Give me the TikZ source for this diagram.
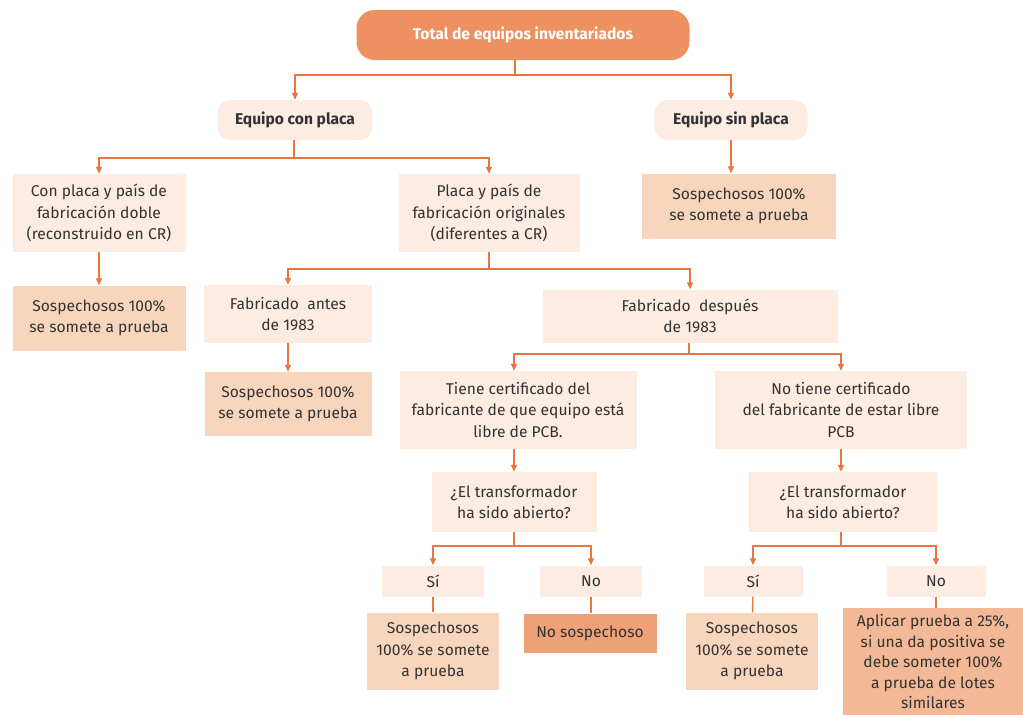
\documentclass[tikz,border=0pt]{standalone}
\usepackage{fontspec}
\setmainfont{Fira Sans}
\usepackage{tikz}
\usepackage{xcolor}
\usetikzlibrary{arrows.meta,positioning,calc}
\definecolor{lineorange}{RGB}{232,118,62}
\definecolor{toporange}{RGB}{237,145,96}
\definecolor{lightpeach}{RGB}{252,236,226}
\definecolor{midpeach}{RGB}{248,214,190}
\definecolor{deeppeach}{RGB}{238,160,118}
\definecolor{salmon}{RGB}{243,185,150}
\definecolor{textgray}{RGB}{50,50,50}

\begin{document}
\begin{tikzpicture}[x=1pt,y=-1pt,
    every node/.style={font=\fontsize{15.6}{21.5}\selectfont, text=textgray, align=center, inner sep=0pt},
    box/.style={fill=lightpeach},
    suspbox/.style={fill=midpeach},
    pill/.style={fill=lightpeach, rounded corners=13pt, font=\fontsize{15.6}{21.5}\selectfont\bfseries},
    link/.style={draw=lineorange, line width=1.4pt},
    arr/.style={link, -{Triangle[length=7pt,width=6pt]}}]
    \useasboundingbox (0,0) rectangle (1023,715);

    % Top level
    \node[fill=toporange, rounded corners=18pt, minimum width=333pt, minimum height=50pt,
          text=white, font=\fontsize{15.6}{21.5}\selectfont\bfseries] (tot) at (523,35) {Total de equipos inventariados};
    \node[pill, minimum width=155pt, minimum height=40pt] (eqc) at (295,120) {Equipo con placa};
    \node[pill, minimum width=153pt, minimum height=40pt] (eqs) at (731,120) {Equipo sin placa};

    % Equipo con placa branch
    \node[box, minimum width=173pt, minimum height=78pt] (cpd) at (99,213) {Con placa y país de\\fabricación doble\\(reconstruido en CR)};
    \node[box, minimum width=181pt, minimum height=78pt] (pfo) at (489,213) {Placa y país de\\fabricación originales\\(diferentes a CR)};
    \node[suspbox, minimum width=173pt, minimum height=65pt] (susa) at (99,318) {Sospechosos 100\%\\se somete a prueba};

    % Equipo sin placa branch
    \node[suspbox, minimum width=194pt, minimum height=65pt] (susb) at (739,206) {Sospechosos 100\%\\se somete a prueba};

    % Fabricado antes / despues
    \node[box, minimum width=168pt, minimum height=58pt] (fan) at (288,314) {Fabricado\ \ antes\\de 1983};
    \node[box, minimum width=295pt, minimum height=53pt] (fde) at (690,316) {Fabricado\ \ después\\de 1983};
    \node[suspbox, minimum width=167pt, minimum height=64pt] (susc) at (288,404) {Sospechosos 100\%\\se somete a prueba};

    % Certificado
    \node[box, minimum width=237pt, minimum height=78pt] (tcf) at (518,410) {Tiene certificado del\\fabricante de que equipo está\\libre de PCB.};
    \node[box, minimum width=252pt, minimum height=78pt] (ncf) at (841,410) {No tiene certificado\\del fabricante de estar libre\\PCB};

    % Transformador abierto?
    \node[box, minimum width=165pt, minimum height=60pt] (trl) at (514,502) {¿El transformador\\ha sido abierto?};
    \node[box, minimum width=188pt, minimum height=60pt] (trr) at (843,502) {¿El transformador\\ha sido abierto?};

    % Si / No
    \node[box, minimum width=102pt, minimum height=31pt] (sil) at (433,581) {Sí};
    \node[box, minimum width=102pt, minimum height=31pt] (nol) at (591,581) {No};
    \node[box, minimum width=99pt, minimum height=31pt] (sir) at (753,581) {Sí};
    \node[box, minimum width=99pt, minimum height=31pt] (nor) at (936,581) {No};

    % Results
    \node[suspbox, minimum width=132pt, minimum height=77pt] (susd) at (433,651) {Sospechosos\\100\% se somete\\a prueba};
    \node[fill=deeppeach, minimum width=133pt, minimum height=39pt] (nsp) at (590,633) {No sospechoso};
    \node[suspbox, minimum width=132pt, minimum height=77pt] (suse) at (752,651) {Sospechosos\\100\% se somete\\a prueba};
    \node[fill=salmon, minimum width=180pt, minimum height=108pt,
          font=\fontsize{15.6}{20.5}\selectfont] (apl) at (933,662) {Aplicar prueba a 25\%,\\si una da positiva se\\debe someter 100\%\\a prueba de lotes\\similares};

    % Connectors
    \coordinate (j1) at (515,75);
    \draw[link] (j1 |- tot.south) -- (j1);
    \draw[arr] (j1) -| (eqc);
    \draw[arr] (j1) -| (eqs);

    \coordinate (j2) at (294,158);
    \draw[link] (j2 |- eqc.south) -- (j2);
    \draw[arr] (j2) -| (cpd);
    \draw[arr] (j2) -| (pfo);
    \draw[arr] (eqs) -- (eqs |- susb.north);
    \draw[arr] (cpd) -- (susa);

    \coordinate (j3) at (489,269);
    \draw[link] (j3 |- pfo.south) -- (j3);
    \draw[arr] (j3) -| (fan);
    \draw[arr] (j3) -| (fde);
    \draw[arr] (fan) -- (susc);

    \coordinate (j4) at (689,354);
    \draw[link] (j4 |- fde.south) -- (j4);
    \draw[arr] (j4) -| (tcf.north -| trl);
    \draw[arr] (j4) -| (ncf);
    \draw[arr] (tcf.south -| trl) -- (trl);
    \draw[arr] (ncf) -- (ncf.south |- trr.north);

    \coordinate (j5) at (514,546);
    \draw[link] (trl) -- (j5);
    \draw[arr] (j5) -| (sil);
    \draw[arr] (j5) -| (nol);
    \coordinate (j6) at (841,546);
    \draw[link] (j6 |- trr.south) -- (j6);
    \draw[arr] (j6) -| (sir);
    \draw[arr] (j6) -| (nor);

    \draw[link] (sil) -- (susd);
    \draw[link] (nol) -- (nol |- nsp.north);
    \draw[link] (sir) -- (suse);
    \draw[link] (nor) -- (nor |- apl.north);

\end{tikzpicture}
\end{document}
